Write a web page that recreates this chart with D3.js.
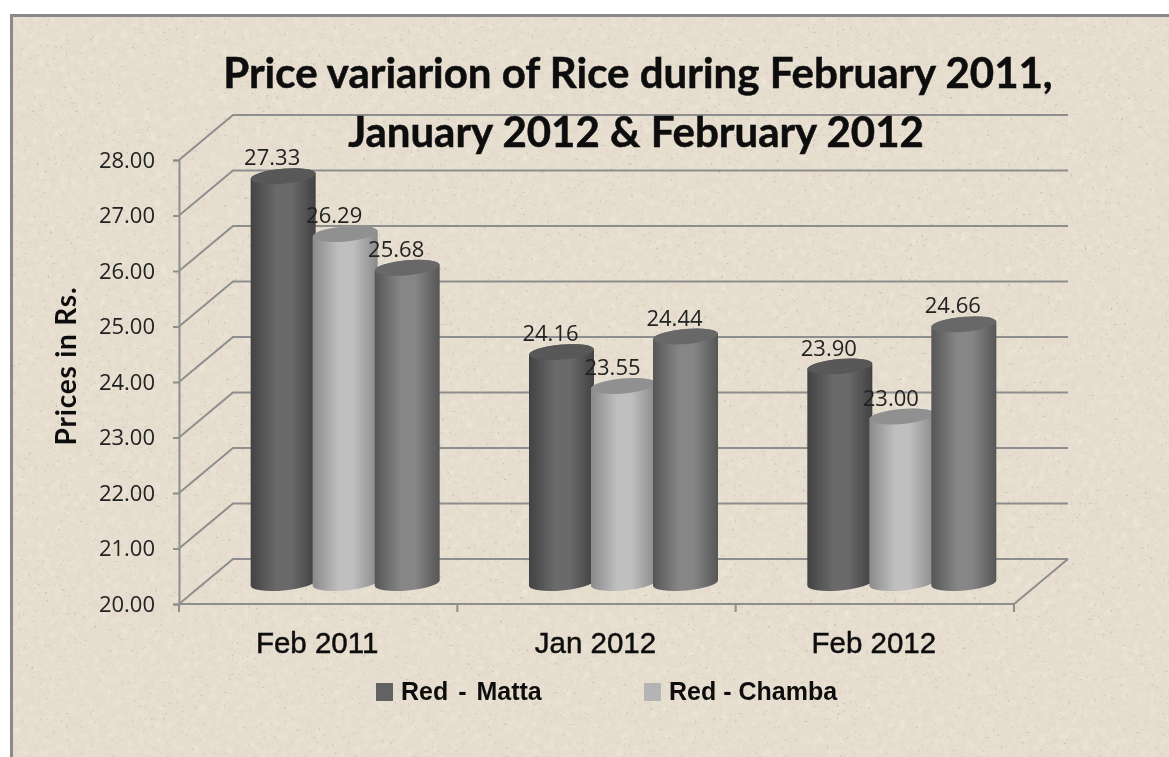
<!DOCTYPE html>
<html lang="en">
<head>
<meta charset="UTF-8">
<title>Price variation of Rice</title>
<script src="https://d3js.org/d3.v7.min.js"></script>
<style>
    html, body { margin: 0; padding: 0; background: #fff; overflow: hidden; }
    svg { display: block; }
</style>
</head>
<body>
<svg width="1169" height="757"></svg>
<script>
    // Values
    const months = ["Feb 2011", "Jan 2012", "Feb 2012"];
    const seriesNames = ["Red - Matta", "Red - Chamba", ""];
    const matta = [27.33, 24.16, 23.90];
    const chamba = [26.29, 23.55, 23.00];
    const third = [25.68, 24.44, 24.66];
    const yTicks = [20, 21, 22, 23, 24, 25, 26, 27, 28];
    const titleLines = ["Price variarion of Rice during February 2011,", "January 2012 & February 2012"];

    const allSeries = [matta, chamba, third];
    const shades = [
        { edge: "#424242", mid: "#6a6a6a", cap: "#585858" },
        { edge: "#8a8a8a", mid: "#bfbfbf", cap: "#909090" },
        { edge: "#565656", mid: "#868686", cap: "#686868" }
    ];

    const svg = d3.select("svg");
    const defs = svg.append("defs");

    // paper texture: soft mottling and a few darker specks
    function noiseFilter(id, freq, seed, rgb, gain, cut, blur) {
        const f = defs.append("filter").attr("id", id)
            .attr("x", 0).attr("y", 0).attr("width", "100%").attr("height", "100%");
        f.append("feTurbulence").attr("type", "fractalNoise")
            .attr("baseFrequency", freq).attr("numOctaves", 3).attr("seed", seed);
        f.append("feColorMatrix").attr("type", "matrix")
            .attr("values", `0 0 0 0 ${rgb[0]}  0 0 0 0 ${rgb[1]}  0 0 0 0 ${rgb[2]}  ${gain} ${gain} 0 0 ${-gain * cut}`);
        f.append("feGaussianBlur").attr("stdDeviation", blur);
    }
    noiseFilter("mottle", 0.14, 7, [0.8, 0.74, 0.64], 0.9, 1.0, 1.4);
    noiseFilter("light", 0.18, 19, [0.96, 0.93, 0.87], 0.9, 1.0, 1.4);
    noiseFilter("speck", 0.38, 3, [0.56, 0.5, 0.42], 2.4, 1.24, 0.7);

    defs.append("filter").attr("id", "soft")
        .append("feGaussianBlur").attr("stdDeviation", 0.4);

    shades.forEach((s, i) => {
        const g = defs.append("linearGradient").attr("id", `cyl${i}`);
        [[0, s.edge], [0.4, s.mid], [0.62, s.mid], [1, s.edge]].forEach(d => {
            g.append("stop").attr("offset", d[0]).attr("stop-color", d[1]);
        });
    });

    // panel
    svg.append("rect").attr("x", 11.5).attr("y", 15.5).attr("width", 1170).attr("height", 760)
        .attr("fill", "#e5dccd").attr("stroke", "#8a8a8a").attr("stroke-width", 3);
    ["mottle", "light", "speck"].forEach(id => {
        svg.append("rect").attr("x", 13).attr("y", 17).attr("width", 1156).attr("height", 740)
            .attr("filter", `url(#${id})`);
    });

    // front plane scales, the back wall is shifted by depth
    const y = d3.scaleLinear().domain([20, 28]).range([604, 160]);
    const x = d3.scaleBand().domain(months).range([179, 1014]);
    const barX = d3.scaleBand().domain(d3.range(3)).range([0, 186]);
    const depthX = 54, depthY = -45;
    const wallRight = 1068;

    const chart = svg.append("g").attr("filter", "url(#soft)");
    const gridColor = "#8e8e8e";

    yTicks.forEach(t => {
        chart.append("path")
            .attr("d", d3.line()([[179, y(t)], [179 + depthX, y(t) + depthY], [wallRight, y(t) + depthY]]))
            .attr("fill", "none").attr("stroke", gridColor).attr("stroke-width", 2);
    });
    chart.append("path")
        .attr("d", d3.line()([[1014, y(20)], [wallRight, y(20) + depthY]]))
        .attr("fill", "none").attr("stroke", gridColor).attr("stroke-width", 2);

    // axes
    const axisLeft = chart.append("g").attr("transform", "translate(179,0)")
        .call(d3.axisLeft(y).tickValues(yTicks).tickSize(6).tickFormat(d3.format(".2f")));
    const axisBottom = chart.append("g").attr("transform", `translate(0,${y(20)})`)
        .call(d3.axisBottom(x).tickSize(0).tickFormat(""));
    [axisLeft, axisBottom].forEach(a => {
        a.selectAll("path,line").attr("stroke", gridColor).attr("stroke-width", 2);
    });
    axisBottom.select("path").attr("d", "M179,0H1014");
    x.domain().forEach(m => {
        axisBottom.append("line").attr("x1", x(m) + x.bandwidth()).attr("x2", x(m) + x.bandwidth())
            .attr("y1", 0).attr("y2", 8).attr("stroke", gridColor).attr("stroke-width", 2);
    });
    axisBottom.append("line").attr("x1", 179).attr("x2", 179).attr("y1", 0).attr("y2", 8)
        .attr("stroke", gridColor).attr("stroke-width", 2);
    axisLeft.selectAll("text")
        .attr("x", -24).attr("fill", "#222").attr("font-size", 22)
        .attr("font-family", "'Open Sans', sans-serif");

    // cylinders
    const rx = 32.5, ry = 7.5, tilt = -5;
    const barW = barX.bandwidth();
    const capShift = 21;
    months.forEach((m, mi) => {
        const left = x(m) + x.bandwidth() / 2 + 27 - 93;
        allSeries.forEach((vals, si) => {
            const cx = left + barX(si) + barW / 2;
            const top = y(vals[mi]) - capShift;
            const base = y(20) - capShift;
            const g = chart.append("g");
            const dy = rx * Math.sin(tilt * Math.PI / 180);
            g.append("path")
                .attr("d", `M${cx - rx},${top - dy} L${cx - rx},${base - dy}
                    A${rx},${ry} ${tilt} 0 0 ${cx + rx},${base + dy}
                    L${cx + rx},${top + dy}
                    A${rx},${ry} ${tilt} 0 0 ${cx - rx},${top - dy} Z`)
                .attr("fill", `url(#cyl${si})`);
            g.append("ellipse")
                .attr("cx", cx).attr("cy", top).attr("rx", rx).attr("ry", ry)
                .attr("transform", `rotate(${tilt} ${cx} ${top})`)
                .attr("fill", shades[si].cap);
        });
        // labels go on top of all bars of the group
        allSeries.forEach((vals, si) => {
            chart.append("text")
                .attr("x", left + barX(si) + barW / 2 - 11)
                .attr("y", y(vals[mi]) - capShift - 11)
                .attr("text-anchor", "middle")
                .attr("font-family", "'Open Sans', sans-serif")
                .attr("font-size", 22).attr("fill", "#222")
                .text(vals[mi].toFixed(2));
        });
    });

    // category labels
    months.forEach(m => {
        chart.append("text")
            .attr("x", x(m) + x.bandwidth() / 2 - 1)
            .attr("y", 653)
            .attr("text-anchor", "middle")
            .attr("font-family", "'Liberation Sans', sans-serif")
            .attr("font-size", 29.5).attr("fill", "#111")
            .attr("stroke", "#111").attr("stroke-width", 0.5)
            .text(m);
    });

    // title
    titleLines.forEach((t, i) => {
        chart.append("text")
            .attr("x", i === 0 ? 638 : 636)
            .attr("y", i === 0 ? 88 : 147)
            .attr("text-anchor", "middle")
            .attr("font-family", "Lato, sans-serif").attr("font-weight", 700)
            .attr("font-size", 42).attr("fill", "#0c0c0c")
            .attr("stroke", "#0c0c0c").attr("stroke-width", 0.5)
            .text(t);
    });

    // y title
    chart.append("text")
        .attr("transform", "translate(76,366) rotate(-90)")
        .attr("text-anchor", "middle")
        .attr("font-family", "Lato, sans-serif").attr("font-weight", 700)
        .attr("font-size", 28).attr("letter-spacing", 0.8).attr("fill", "#111")
        .text("Prices in Rs.");

    // legend, third series has no entry in the picture
    const legendX = [376, 644];
    const legendWordGap = [3, 0];
    seriesNames.filter(d => d).forEach((name, i) => {
        chart.append("rect").attr("x", legendX[i]).attr("y", 683).attr("width", 17).attr("height", 18)
            .attr("fill", i === 0 ? "#626262" : "#b4b4b4");
        chart.append("text").attr("x", legendX[i] + 25).attr("y", 700)
            .attr("font-family", "'Liberation Sans', sans-serif").attr("font-weight", 700)
            .attr("font-size", 25).attr("fill", "#111")
            .attr("word-spacing", legendWordGap[i])
            .text(name);
    });
</script>
</body>
</html>
